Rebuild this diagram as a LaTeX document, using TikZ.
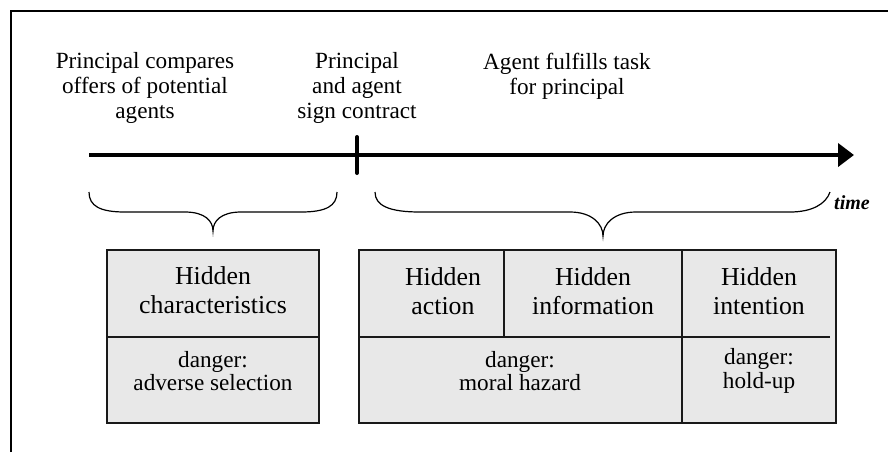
\documentclass[tikz,border=0pt]{standalone}
\usepackage{fontspec}
\setmainfont{Liberation Serif}
\usetikzlibrary{arrows.meta}
\definecolor{boxgray}{HTML}{E8E8E8}
\tikzset{
  lbl/.style={align=center, inner sep=0pt, font=\fontsize{11.6}{12.4}\selectfont},
  boxttl/.style={align=center, inner sep=0pt, font=\fontsize{12.9}{14.8}\selectfont},
  dngr/.style={align=center, inner sep=0pt, font=\fontsize{11.6}{11.8}\selectfont},
  cell/.style={fill=boxgray, draw=black!90, line width=0.8pt},
  sep/.style={draw=black!90, line width=0.7pt},
  brc/.style={line width=0.6pt},
}
\begin{document}
\begin{tikzpicture}[x=0.5pt,y=-0.5pt]
\useasboundingbox (0,0) rectangle (888,452);
% frame
\coordinate (fb) at (10.5,452);
\coordinate (fc) at (10.5,11);
\coordinate (fr) at (888,11);
\draw[line width=1pt] (fb) -- (fc) -- (fr);

% top labels
\node[lbl] (l1) at (145,88) {Principal compares\\offers of potential\\agents};
\node[lbl] (l2) at (357,88) {Principal\\and agent\\sign contract};
\node[lbl] (l3) at (567,76) {Agent fulfills task\\for principal};

% timeline
\coordinate (ts) at (89,155);
\coordinate (te) at (854,155);
\draw[line width=2.3pt, -{Triangle[length=8pt,width=11.5pt]}] (ts) -- (te);
\coordinate (kt) at (357,137);
\coordinate (kb) at (357,173);
\draw[line width=2pt, line cap=round] (kt) -- (kb);

% braces
\draw[brc] (89,192) .. controls (89,206) and (100,212) .. (125,212) -- (185,212)
  .. controls (205,212) and (213,221) .. (213,231)
  .. controls (213,221) and (221,212) .. (241,212) -- (301,212)
  .. controls (326,212) and (337,206) .. (337,192);
\draw[brc] (375,192) .. controls (375,206) and (390,212) .. (420,212) -- (570,212)
  .. controls (592,212) and (603,224) .. (603,236)
  .. controls (603,224) and (614,212) .. (636,212) -- (790,212)
  .. controls (812,212) and (826,204) .. (830,192);
\node[inner sep=0pt, font=\fontsize{10}{11}\selectfont\bfseries\itshape] (time) at (852,203) {time};

% left box
\path[cell] (107,250) rectangle (319,423);
\coordinate (la) at (107,337);
\coordinate (lb) at (319,337);
\draw[sep] (la) -- (lb);
\node[boxttl] (hc) at (213,290) {Hidden\\characteristics};
\node[dngr] (as) at (213,371) {danger:\\adverse selection};

% right box
\path[cell] (359,250) rectangle (836,423);
\coordinate (ra) at (359,337);
\coordinate (rb) at (830,337);
\draw[sep] (ra) -- (rb);
\coordinate (v1t) at (504,250);
\coordinate (v1b) at (504,337);
\draw[sep] (v1t) -- (v1b);
\coordinate (v2t) at (682,250);
\coordinate (v2b) at (682,423);
\draw[sep] (v2t) -- (v2b);
\node[boxttl] (ha) at (443,291) {Hidden\\action};
\node[boxttl] (hi) at (593,291) {Hidden\\information};
\node[boxttl] (hn) at (759,291) {Hidden\\intention};
\node[dngr] (mh) at (520,371) {danger:\\moral hazard};
\node[dngr] (hu) at (759,371) {danger:\\hold-up};
\end{tikzpicture}
\end{document}
